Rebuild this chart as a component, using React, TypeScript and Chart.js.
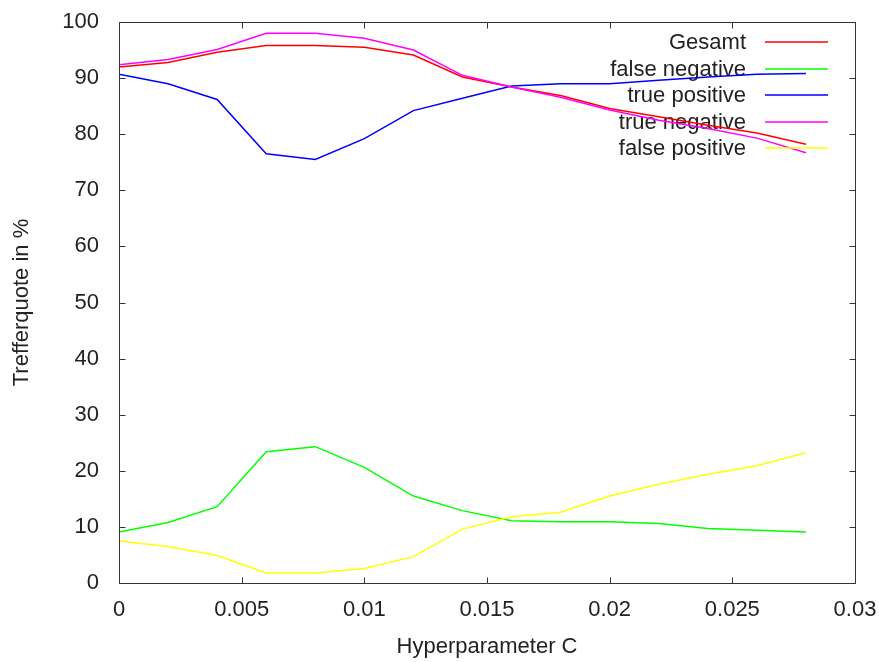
import React, { useEffect, useRef } from 'react';
import { Chart, registerables } from 'chart.js';

Chart.register(...registerables);

// ---- data ----
const cValues = [0, 0.002, 0.004, 0.006, 0.008, 0.01, 0.012, 0.014, 0.016, 0.018, 0.02, 0.022, 0.024, 0.026, 0.028];
const gesamt = [92.0, 92.8, 94.6, 95.8, 95.8, 95.5, 94.1, 90.2, 88.4, 86.9, 84.6, 83.1, 81.6, 80.2, 78.2];
const falseNegative = [9.1, 10.8, 13.6, 23.4, 24.3, 20.6, 15.5, 12.9, 11.1, 10.9, 10.9, 10.6, 9.7, 9.4, 9.1];
const truePositive = [90.7, 89.0, 86.2, 76.5, 75.5, 79.2, 84.2, 86.4, 88.6, 89.0, 89.0, 89.6, 90.2, 90.7, 90.8];
const trueNegative = [92.4, 93.3, 95.1, 98.0, 98.0, 97.1, 95.0, 90.5, 88.4, 86.6, 84.3, 82.5, 81.0, 79.3, 76.7];
const falsePositive = [7.5, 6.5, 4.9, 1.8, 1.8, 2.6, 4.7, 9.6, 11.8, 12.6, 15.5, 17.6, 19.4, 20.9, 23.2];

const seriesNames = ['Gesamt', 'false negative', 'true positive', 'true negative', 'false positive'];
const seriesValues = [gesamt, falseNegative, truePositive, trueNegative, falsePositive];
const seriesColors = ['#ff0000', '#00ff00', '#0000ff', '#ff00ff', '#ffff00'];

const xTickLabels = ['0', '0.005', '0.01', '0.015', '0.02', '0.025', '0.03'];
const yTickLabels = ['0', '10', '20', '30', '40', '50', '60', '70', '80', '90', '100'];
const xTitle = 'Hyperparameter C';
const yTitle = 'Trefferquote in %';

const FONT_FAMILY = '"Liberation Sans", Arial, sans-serif';
const FONT_SIZE = 22;
const TEXT_COLOR = '#222222';
const FRAME_COLOR = '#333333';
const LINE_WIDTH = 1.5;

const gnuplotPlugin = {
  id: 'gnuplotDecor',
  beforeDatasetsDraw(chart: any) {
    const { ctx, chartArea: a } = chart;
    ctx.save();
    ctx.font = `${FONT_SIZE}px ${FONT_FAMILY}`;
    ctx.fillStyle = TEXT_COLOR;
    ctx.textAlign = 'right';
    ctx.textBaseline = 'middle';
    seriesNames.forEach((name, i) => {
      const y = a.top + 20 + i * 26.5;
      ctx.fillText(name, a.right - 109, y + 1);
    });
    ctx.restore();
  },
  afterDatasetsDraw(chart: any) {
    const { ctx, chartArea: a } = chart;
    ctx.save();
    ctx.lineWidth = LINE_WIDTH;
    seriesNames.forEach((_, i) => {
      const y = Math.round(a.top + 20 + i * 26.5);
      ctx.strokeStyle = seriesColors[i];
      ctx.beginPath();
      ctx.moveTo(a.right - 90, y);
      ctx.lineTo(a.right - 27, y);
      ctx.stroke();
    });
    ctx.restore();
  },
  afterDraw(chart: any) {
    const { ctx, chartArea: a, scales } = chart;
    const xs = scales.x;
    const ys = scales.y;
    const L = Math.round(a.left) + 0.5;
    const R = Math.round(a.right) + 0.5;
    const T = Math.round(a.top) + 0.5;
    const B = Math.round(a.bottom) + 0.5;
    ctx.save();
    ctx.strokeStyle = FRAME_COLOR;
    ctx.lineWidth = 1;
    ctx.beginPath();
    ctx.rect(L, T, R - L, B - T);
    ctx.stroke();
    const tl = 6;
    ctx.beginPath();
    xTickLabels.forEach((_, i) => {
      const x = Math.round(xs.getPixelForValue(i * 0.005)) + 0.5;
      ctx.moveTo(x, B);
      ctx.lineTo(x, B - tl);
      ctx.moveTo(x, T);
      ctx.lineTo(x, T + tl);
    });
    yTickLabels.forEach((_, i) => {
      const y = Math.round(ys.getPixelForValue(i * 10)) + 0.5;
      ctx.moveTo(L, y);
      ctx.lineTo(L + tl, y);
      ctx.moveTo(R, y);
      ctx.lineTo(R - tl, y);
    });
    ctx.stroke();

    ctx.font = `${FONT_SIZE}px ${FONT_FAMILY}`;
    ctx.fillStyle = TEXT_COLOR;
    ctx.textAlign = 'center';
    ctx.textBaseline = 'middle';
    ctx.fillText(xTitle, (a.left + a.right) / 2, 647);
    ctx.save();
    ctx.translate(22, (a.top + a.bottom) / 2);
    ctx.rotate(-Math.PI / 2);
    ctx.fillText(yTitle, 0, 0);
    ctx.restore();
    ctx.restore();
  },
};

const zeroPadding = (s: any) => {
  s.paddingTop = 0;
  s.paddingBottom = 0;
  s.paddingLeft = 0;
  s.paddingRight = 0;
};

export default function App() {
  const canvasRef = useRef<HTMLCanvasElement | null>(null);

  useEffect(() => {
    document.body.style.margin = '0';
    const canvas = canvasRef.current;
    if (!canvas) return;

    const datasets = seriesNames.map((name, i) => ({
      label: name,
      data: cValues.map((c, j) => ({ x: c, y: seriesValues[i][j] })),
      borderColor: seriesColors[i],
      backgroundColor: seriesColors[i],
      borderWidth: LINE_WIDTH,
      pointRadius: 0,
      tension: 0,
      fill: false,
      order: seriesNames.length - i,
    }));

    const chart = new Chart(canvas, {
      type: 'line',
      data: { datasets },
      plugins: [gnuplotPlugin],
      options: {
        responsive: false,
        animation: false,
        maintainAspectRatio: false,
        layout: { padding: { top: 22, right: 24, left: 0, bottom: 0 } },
        plugins: {
          legend: { display: false },
          tooltip: { enabled: false },
        },
        scales: {
          x: {
            type: 'linear',
            min: 0,
            max: 0.03,
            afterFit: (s: any) => { s.height = 79; zeroPadding(s); },
            afterBuildTicks: (s: any) => {
              s.ticks = xTickLabels.map((_, i) => ({ value: i * 0.005 }));
            },
            ticks: {
              autoSkip: false,
              maxRotation: 0,
              padding: 14,
              color: TEXT_COLOR,
              font: { family: FONT_FAMILY, size: FONT_SIZE },
              callback: (v: any) => xTickLabels[Math.round(Number(v) / 0.005)] ?? '',
            },
            grid: { display: false, drawTicks: false },
            border: { display: false },
          },
          y: {
            type: 'linear',
            min: 0,
            max: 100,
            afterFit: (s: any) => { s.width = 119; zeroPadding(s); },
            afterBuildTicks: (s: any) => {
              s.ticks = yTickLabels.map((_, i) => ({ value: i * 10 }));
            },
            ticks: {
              autoSkip: false,
              padding: 20,
              color: TEXT_COLOR,
              font: { family: FONT_FAMILY, size: FONT_SIZE },
              callback: (v: any) => yTickLabels[Math.round(Number(v) / 10)] ?? '',
            },
            grid: { display: false, drawTicks: false },
            border: { display: false },
          },
        },
      },
    });

    return () => chart.destroy();
  }, []);

  return (
    <div style={{ width: 879, height: 662, background: '#fff' }}>
      <canvas ref={canvasRef} width={879} height={662} style={{ display: 'block' }} />
    </div>
  );
}
